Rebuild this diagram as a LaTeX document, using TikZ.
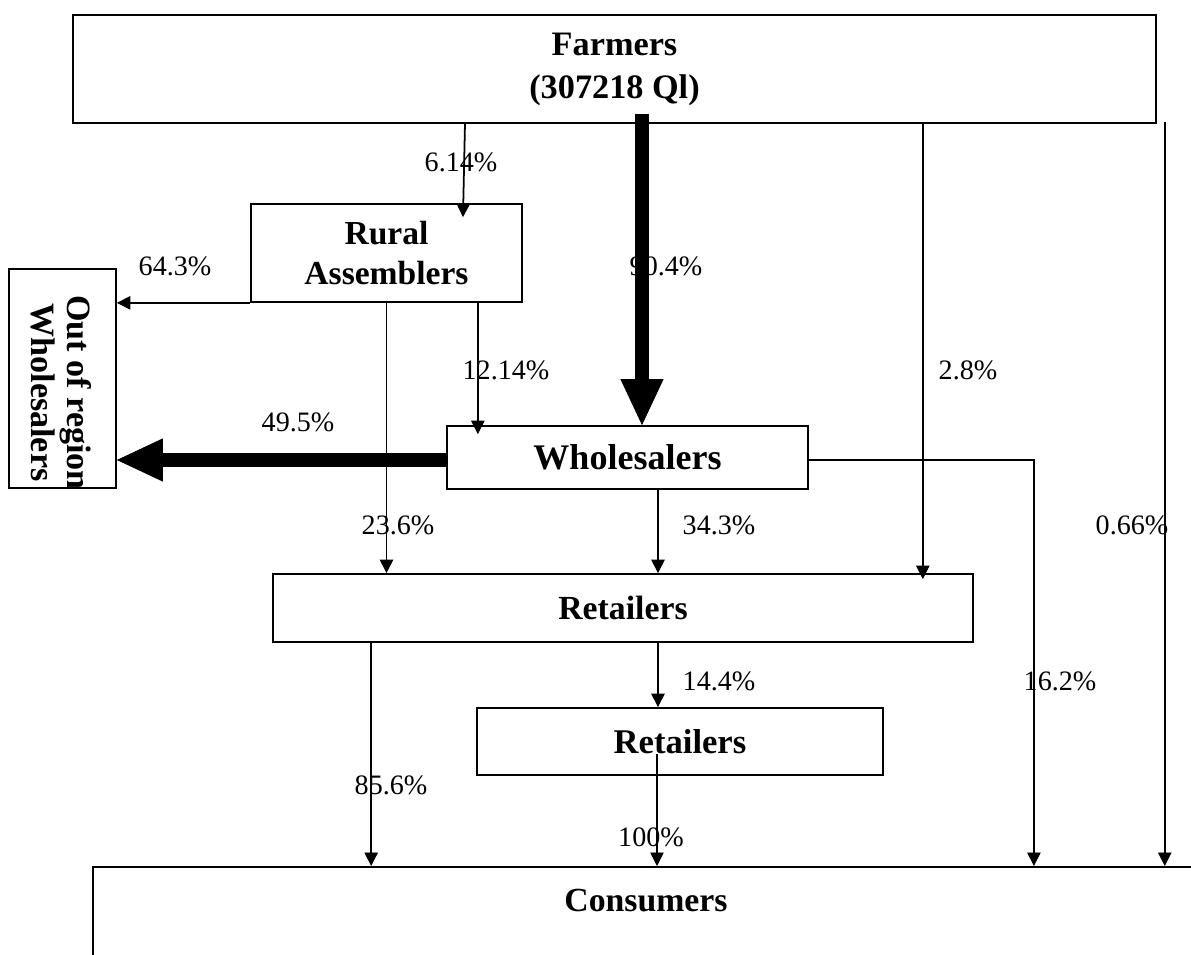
\documentclass[tikz,border=0pt]{standalone}
\usepackage{fontspec}
\setmainfont{Liberation Serif}
\usetikzlibrary{arrows.meta,positioning}
\tikzset{
  box/.style={draw, line width=1pt, inner sep=0pt, align=center,
    font=\bfseries\fontsize{19.5}{24.5}\selectfont},
  pct/.style={inner sep=0pt, font=\fontsize{16}{19}\selectfont},
  flow/.style={line width=1pt, -{Triangle[length=0.27cm,width=0.27cm,line width=0.5pt]}},
  bigflow/.style={line width=8pt, -{Triangle[length=0.92cm,width=0.86cm,line width=0.5pt]}}
}

\begin{document}
\begin{tikzpicture}[x=0.02cm,y=-0.02cm]
\useasboundingbox (0,0) rectangle (1191,955);
\node[box, minimum width=21.66cm, minimum height=2.16cm] (farm) at (614.5,69) {Farmers\\(307218 Ql)};
\node[box, minimum width=5.42cm, minimum height=1.96cm, font=\bfseries\fontsize{19.1}{22.8}\selectfont] (rural) at (386.5,253) {Rural\\Assemblers};
\node[draw, line width=1pt, inner sep=0pt, minimum width=2.14cm, minimum height=4.38cm] (out) at (62.5,378.5) {};
\begin{scope}
\clip ([xshift=0.38cm]out.south west) rectangle (out.north east);
\node[rotate=-90, align=center, inner sep=0pt, font=\bfseries\fontsize{19.4}{20.5}\selectfont] (outtxt) at (61,392.5) {Out of region\\Wholesalers};
\end{scope}
\node[box, minimum width=7.22cm, minimum height=1.26cm, font=\bfseries\fontsize{20.5}{25}\selectfont] (whole) at (627.5,457.5) {Wholesalers};
\node[box, minimum width=14cm, minimum height=1.36cm, font=\bfseries\fontsize{19.2}{23}\selectfont] (ret) at (623,608) {Retailers};
\node[box, minimum width=8.12cm, minimum height=1.34cm, font=\bfseries\fontsize{19.7}{23}\selectfont] (ret2) at (680,741.5) {Retailers};
\node[box, anchor=north, minimum width=22.12cm, minimum height=2.6cm, text height=0.46cm, text depth=1.26cm, font=\bfseries\fontsize{19.2}{23}\selectfont] (cons) at (646,866) {Consumers};

\node[pct] (p614) at (461,162) {6.14\%};
\node[pct] (p904) at (666,266) {90.4\%};
\node[pct] (p1214) at (506,370) {12.14\%};
\node[pct] (p28) at (968,370) {2.8\%};
\node[pct] (p066) at (1132,525) {0.66\%};
\node[pct] (p162) at (1060,681) {16.2\%};
\node[pct] (p643) at (175,266) {64.3\%};
\node[pct] (p495) at (298,422) {49.5\%};
\node[pct] (p236) at (398,525) {23.6\%};
\node[pct] (p343) at (719,525) {34.3\%};
\node[pct] (p144) at (719,681) {14.4\%};
\node[pct] (p856) at (391,785) {85.6\%};
\node[pct] (p100) at (651,837) {100\%};

\draw[flow] ([xshift=1.57cm]rural.north |- farm.south) -- ([xshift=1.53cm,yshift=-0.28cm]rural.north);
\draw[bigflow] ([xshift=0.29cm,yshift=0.2cm]whole.north |- farm.south) -- ([xshift=0.29cm]whole.north);
\draw[flow] ([xshift=-1.02cm]ret.north east |- farm.south) -- ([xshift=-1.02cm,yshift=-0.12cm]ret.north east);
\draw[flow] ([xshift=0.16cm,yshift=0.04cm]farm.south east) -- ([xshift=0.16cm]farm.south east |- cons.north);
\draw[flow] (rural.south west) -- (rural.south west -| out.east);
\draw[flow] ([xshift=-0.9cm]rural.south east) -- ([xshift=-0.9cm,yshift=-0.18cm]rural.south east |- whole.north);
\draw[flow] (rural.south) -- (rural.south |- ret.north);
\draw[bigflow] ([yshift=-0.05cm]whole.west) -- ([yshift=-0.05cm]whole.west -| out.east);
\draw[flow] ([yshift=-0.05cm]whole.east) -| ([xshift=7.76cm]cons.north);
\draw[flow] ([xshift=0.61cm]whole.south) -- ([xshift=0.61cm]whole.south |- ret.north);
\draw[flow] ([xshift=1.98cm]ret.south west) -- ([xshift=1.98cm]ret.south west |- cons.north);
\draw[flow] ([xshift=0.7cm]ret.south) -- ([xshift=0.7cm]ret.south |- ret2.north);
\draw[flow] ([xshift=-0.46cm,yshift=-0.25cm]ret2.center) -- ([xshift=-0.46cm]ret2.center |- cons.north);
\end{tikzpicture}
\end{document}
